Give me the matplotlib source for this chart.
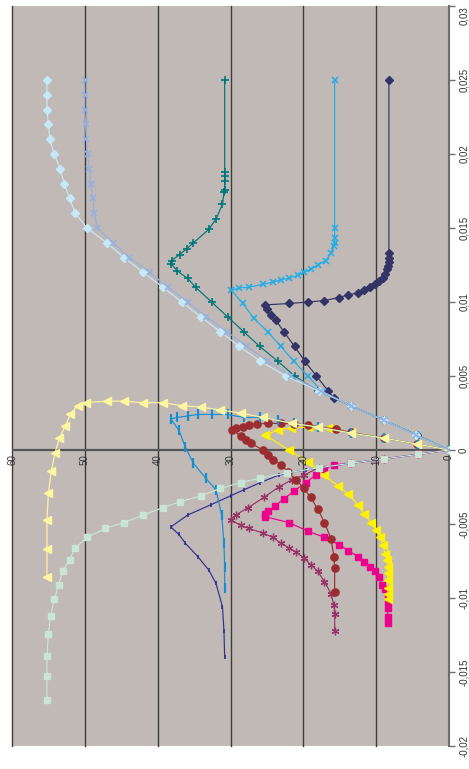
import numpy as np
import matplotlib
matplotlib.use("Agg")
import matplotlib.pyplot as plt

# valores (x = deslocamento, y = 0..60)
x_grid = [0, 0.001, 0.002, 0.003, 0.004, 0.005, 0.006, 0.007, 0.008, 0.009, 0.010, 0.011, 0.012,
          0.013, 0.014, 0.015, 0.016, 0.017, 0.018, 0.019, 0.020, 0.021, 0.022, 0.023, 0.024, 0.025]

# 1 - azul marinho, losangos
navy_x = [0, 0.001, 0.002, 0.003, 0.0035, 0.004, 0.005, 0.006, 0.007, 0.008, 0.0088, 0.0091, 0.0095,
          0.0098, 0.0099, 0.0100, 0.0101, 0.0103, 0.0105, 0.0106, 0.0108, 0.0110, 0.0112, 0.0114,
          0.0116, 0.0119, 0.0122, 0.0124, 0.0127, 0.0130, 0.0133, 0.025]
navy_y = [0, 4.4, 8.9, 13.5, 15.8, 16.6, 18.2, 19.8, 21.2, 22.7, 23.8, 24.5, 25.0, 25.3, 22.0, 19.3,
          17.1, 15.1, 13.8, 12.5, 11.7, 10.9, 10.2, 9.6, 9.1, 8.8, 8.5, 8.4, 8.3, 8.25, 8.25, 8.25]

# 2 - magenta, quadrados
mag_x = [0, -0.0003, -0.0006, -0.0009, -0.001, -0.0013, -0.0017, -0.0022, -0.0028, -0.0033, -0.0038,
         -0.0041, -0.0043, -0.0045, -0.0049, -0.0055, -0.0059, -0.0064, -0.0068, -0.0072, -0.0076,
         -0.0079, -0.0082, -0.0086, -0.0091, -0.0094, -0.0098, -0.0103, -0.0107, -0.0113, -0.0117]
mag_y = [0, 4.3, 8.9, 13.5, 15.8, 17.2, 18.3, 19.7, 21.3, 22.7, 23.9, 24.8, 25.2, 25.3, 22.0, 19.3,
         17.1, 15.1, 13.8, 12.5, 11.7, 10.9, 10.2, 9.6, 9.2, 8.8, 8.4, 8.4, 8.4, 8.4, 8.4]

# 3 - amarelo, triângulos
yel_x = [0, 0.0004, 0.0008, 0.0012, 0.0015, 0.00155, 0.0015, 0.00135, 0.001, 0, -0.0008, -0.0017,
         -0.0024, -0.003, -0.0037, -0.0043, -0.0049, -0.0054, -0.0059, -0.0064, -0.007, -0.0074,
         -0.0079, -0.0083, -0.0088, -0.0093, -0.0097, -0.0101]
yel_y = [0, 4.4, 8.9, 13.5, 16.6, 19.4, 21.7, 23.5, 25.2, 22.0, 19.3, 17.2, 15.3, 13.8, 12.5, 11.7,
         10.7, 10.0, 9.5, 9.1, 8.8, 8.5, 8.4, 8.4, 8.4, 8.4, 8.4, 8.4]

# 4 - ciano, x
cyan_x = [0, 0.001, 0.002, 0.003, 0.0039, 0.005, 0.006, 0.007, 0.008, 0.0089, 0.0099, 0.0108,
          0.01095, 0.0110, 0.0112, 0.01135, 0.0115, 0.0116, 0.0118, 0.0120, 0.0122, 0.0125, 0.0128,
          0.0133, 0.0138, 0.0140, 0.0143, 0.0150, 0.025]
cyan_y = [0, 4.4, 8.9, 13.5, 17.3, 19.4, 21.3, 23.1, 24.9, 26.8, 28.3, 29.9, 28.8, 27.5, 25.5, 24.2,
          23.1, 22.0, 20.8, 19.9, 19.0, 18.0, 16.9, 16.2, 15.8, 15.7, 15.7, 15.7, 15.7]

# 5 - roxo, estrelas
pur_x = [0, -0.0003, -0.0006, -0.0009, -0.0012, -0.0017, -0.002, -0.0025, -0.0032, -0.0039, -0.0044,
         -0.0047, -0.0051, -0.0053, -0.0056, -0.0059, -0.0063, -0.0066, -0.0069, -0.0073, -0.0078,
         -0.0082, -0.0089, -0.0097, -0.0105, -0.0111, -0.0122]
pur_y = [0, 4.3, 8.9, 13.5, 17.9, 19.9, 21.5, 23.4, 25.4, 27.6, 29.3, 30.0, 28.6, 27.5, 25.6, 24.2,
         23.1, 22.0, 21.0, 19.9, 18.9, 18.0, 17.1, 16.2, 15.8, 15.7, 15.7]

# 6 - bordô, círculos
red_x = [0, 0.0004, 0.0008, 0.0012, 0.0014, 0.0017, 0.00176, 0.0018, 0.0018, 0.00176, 0.0017,
         0.00155, 0.0015, 0.00135, 0.00095, 0.00068, 0.00047, 0, -0.00034, -0.00068, -0.001, -0.0015,
         -0.002, -0.0026, -0.0032, -0.004, -0.0049, -0.006, -0.0072, -0.008, -0.0096]
red_y = [0, 4.4, 8.9, 13.5, 15.5, 19.4, 21.3, 23.1, 24.9, 26.3, 27.4, 28.3, 29.3, 29.8, 28.6, 27.9,
         27.2, 25.6, 24.9, 24.1, 23.0, 22.1, 21.0, 19.9, 19.0, 18.0, 17.1, 16.2, 15.8, 15.7, 15.7]

# 7 - verde-azulado, +
teal_x = [0, 0.001, 0.002, 0.003, 0.004, 0.005, 0.006, 0.007, 0.008, 0.009, 0.010, 0.011, 0.0116,
          0.0121, 0.0126, 0.0128, 0.0132, 0.0136, 0.0140, 0.0149, 0.0156, 0.0166, 0.0174, 0.0176,
          0.0182, 0.0185, 0.0188, 0.025]
teal_y = [0, 4.4, 8.9, 13.5, 18.0, 21.2, 23.5, 26.0, 28.2, 30.4, 32.6, 34.8, 35.9, 37.3, 38.2, 38.1,
          37.0, 36.0, 35.1, 33.0, 32.0, 31.1, 30.9, 30.8, 30.8, 30.8, 30.8, 30.8]

# 8 - azul, traço curto
ind_x = [0, -0.0003, -0.0006, -0.0009, -0.0012, -0.00135, -0.0015, -0.0017, -0.0022, -0.0027,
         -0.0031, -0.0037, -0.0044, -0.0052, -0.0057, -0.0063, -0.0072, -0.0081, -0.009, -0.0106,
         -0.0122, -0.014]
ind_y = [0, 4.3, 8.9, 13.5, 17.6, 19.7, 21.7, 23.4, 25.9, 28.2, 30.0, 32.7, 35.9, 38.2, 37.1, 36.2,
         34.5, 33.0, 32.0, 31.1, 30.9, 30.8]

# 9 - azul celeste, traço longo
sky_x = [0, 0.0004, 0.0008, 0.00115, 0.00155, 0.0018, 0.002, 0.0022, 0.0022, 0.0024, 0.0024, 0.0024,
         0.0023, 0.0022, 0.0021, 0.00135, 0.0002, -0.0009, -0.0019, -0.0027, -0.0044, -0.0063,
         -0.0079, -0.0093]
sky_y = [0, 4.4, 8.9, 13.5, 18.0, 21.3, 23.5, 25.9, 28.2, 30.4, 32.6, 34.5, 35.9, 37.3, 38.2, 37.1,
         36.2, 35.1, 33.4, 32.0, 31.2, 30.9, 30.8, 30.8]

# 10 - turquesa claro, losangos
turq_y = [0, 4.5, 8.9, 13.5, 17.9, 22.4, 25.9, 28.8, 31.4, 34.1, 36.7, 39.3, 42.0, 44.6, 47.0, 49.7,
          51.3, 52.1, 52.8, 53.4, 54.2, 54.8, 55.0, 55.2, 55.2, 55.2]

# 11 - verde claro, quadrados
lgr_x = [0, -0.0003, -0.0006, -0.0009, -0.0012, -0.00155, -0.0019, -0.0022, -0.0026, -0.0031,
         -0.0035, -0.0039, -0.0044, -0.0049, -0.0053, -0.0059, -0.0066, -0.0074, -0.0082, -0.0091,
         -0.0101, -0.0112, -0.0124, -0.0139, -0.0153, -0.0169]
lgr_y = [0, 4.3, 8.9, 13.5, 17.9, 22.3, 25.9, 28.6, 31.4, 34.1, 36.9, 39.3, 42.0, 44.6, 47.2, 49.7,
         51.3, 52.1, 53.0, 53.6, 54.2, 54.7, 55.0, 55.2, 55.2, 55.2]

# 12 - amarelo claro, triângulos
lye_x = [0, 0.0004, 0.0008, 0.00115, 0.00155, 0.0018, 0.0022, 0.0025, 0.0027, 0.0029, 0.003, 0.0032,
         0.0032, 0.0033, 0.0033, 0.0032, 0.003, 0.0024, 0.0016, 0.0008, -0.0002, -0.0014, -0.0029,
         -0.0047, -0.0067, -0.0086]
lye_y = [0, 4.4, 8.9, 13.5, 18.0, 21.5, 25.6, 28.6, 31.4, 34.1, 36.7, 39.3, 42.0, 44.6, 47.0, 49.8,
         51.0, 52.0, 52.7, 53.5, 54.1, 54.6, 55.0, 55.2, 55.2, 55.2]

# 13 - azul pálido, x
pale_y = [0, 4.5, 8.9, 13.5, 17.6, 21.7, 24.8, 27.8, 30.5, 33.3, 35.9, 38.6, 41.1, 43.9, 46.1, 48.3,
          48.7, 48.9, 49.2, 49.4, 49.6, 49.8, 49.9, 50.0, 50.0, 50.0]

x_ticks = [-0.02, -0.015, -0.01, -0.005, 0, 0.005, 0.01, 0.015, 0.02, 0.025, 0.03]
x_tick_labels = ["-0,02", "-0,015", "-0,01", "-0,005", "0", "0,005", "0,01", "0,015", "0,02",
                 "0,025", "0,03"]
y_ticks = [0, 10, 20, 30, 40, 50, 60]

plt.rcParams["font.family"] = ["Liberation Sans", "DejaVu Sans"]

# gráfico girado 90°: eixo horizontal = valores 0..60 (invertido), vertical = deslocamento
series = [
    (navy_x, navy_y, "#333366", "D", 3.8, {}),
    (mag_x, mag_y, "#EC008C", "s", 5.0, {}),
    (yel_x, yel_y, "#FFF200", "<", 5.5, {}),
    (cyan_x, cyan_y, "#1FAEE6", "x", 5.0, {"mew": 1.1}),
    (pur_x, pur_y, "#993366", (6, 2, 0), 5.5, {"mew": 0.9}),
    (red_x, red_y, "#9B2D30", "o", 5.2, {}),
    (teal_x, teal_y, "#00767A", "+", 5.5, {"mew": 1.2}),
    (ind_x, ind_y, "#2E3192", "|", 3.5, {"mew": 1.2}),
    (sky_x, sky_y, "#148FD4", "|", 6.5, {"mew": 1.6}),
    (x_grid, turq_y, "#C6E9F7", "D", 3.6, {}),
    (lgr_x, lgr_y, "#C9E6D5", "s", 4.5, {}),
    (lye_x, lye_y, "#FFF7A0", "<", 5.5, {}),
    (x_grid, pale_y, "#93B1E0", "x", 5.0, {"mew": 1.1}),
]

fig = plt.figure(figsize=(4.69, 7.69), dpi=100)
ax = fig.add_axes([12 / 469, 23 / 769, 437 / 469, 740 / 769])
ax.set_facecolor("#C1B9B6")

for v in y_ticks[1:]:
    ax.axvline(v, color="#3C3C3C", lw=1.0, zorder=1, clip_on=False)
ax.axhline(0, color="#555555", lw=1.6, zorder=1)

for xs, ys, cor, mk, ms, extra in series:
    ax.plot(ys, xs, color=cor, lw=0.85, marker=mk, markersize=ms,
            markerfacecolor=cor, markeredgecolor=cor, zorder=3, **extra)

ax.set_xlim(60, 0)
ax.set_ylim(-0.02, 0.03)

for s in ["top", "bottom", "left"]:
    ax.spines[s].set_visible(False)
ax.spines["right"].set_color("#6E6E6E")
ax.spines["right"].set_linewidth(1.5)

ax.set_xticks([])
ax.yaxis.tick_right()
ax.set_yticks(x_ticks)
ax.set_yticklabels(x_tick_labels, rotation=90, va="center", fontsize=7, color="#333333")
ax.get_yticklabels()[-1].set_va("top")  # topo: manter o rótulo dentro da figura
ax.tick_params(axis="y", direction="out", length=4, width=1, color="#6E6E6E", pad=3)

for v in y_ticks:
    ax.annotate(str(v), xy=(v, 0), xytext=(0, -3), textcoords="offset points",
                rotation=90, ha="center", va="top", fontsize=7, color="#333333")

fig.savefig("out.png", dpi=100, facecolor="white")
